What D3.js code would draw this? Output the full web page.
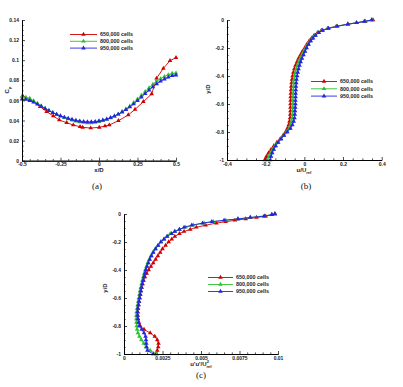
<!DOCTYPE html>
<html><head><meta charset="utf-8">
<script src="https://cdn.jsdelivr.net/npm/d3@7/dist/d3.min.js"></script>
<style>body{margin:0;background:#fff}svg{display:block}</style>
</head><body>
<script>
// ---------- DATA ----------
const seriesNames = ["650,000 cells", "800,000 cells", "950,000 cells"];
const seriesColors = ["#d00000", "#30c030", "#2525e0"];

// Panel (a): Cp vs x/D
const aRedX  = [-0.496,-0.448,-0.383,-0.34,-0.297,-0.258,-0.21,-0.167,-0.123,-0.106,-0.054,0.002,0.039,0.067,0.126,0.19,0.234,0.288,0.342,0.374,0.418,0.461,0.5];
const aRedCp = [0.0644,0.061,0.0538,0.0488,0.0445,0.0405,0.0378,0.0355,0.0338,0.0332,0.0325,0.0332,0.0345,0.0355,0.0398,0.0455,0.051,0.0587,0.0664,0.082,0.0919,0.0995,0.1025];
const aX = [-0.5,-0.475,-0.45,-0.425,-0.4,-0.375,-0.35,-0.325,-0.3,-0.275,-0.25,-0.225,-0.2,-0.175,-0.15,-0.125,-0.1,-0.075,-0.05,-0.025,0,0.025,0.05,0.075,0.1,0.125,0.15,0.175,0.2,0.225,0.25,0.275,0.3,0.325,0.35,0.375,0.4,0.425,0.45,0.475,0.5];
const aGreenCp = [0.064,0.063,0.062,0.0595,0.057,0.0545,0.052,0.0498,0.0478,0.046,0.0443,0.0428,0.0415,0.0403,0.0393,0.0385,0.038,0.0377,0.0377,0.038,0.0388,0.0398,0.041,0.0425,0.0443,0.0463,0.0487,0.0513,0.0543,0.0577,0.0613,0.065,0.0688,0.0725,0.076,0.079,0.0815,0.0837,0.0855,0.0868,0.0872];
const aBlueCp = [0.0612,0.061,0.0598,0.0582,0.0562,0.054,0.0518,0.0497,0.0478,0.0461,0.0446,0.0432,0.042,0.041,0.0401,0.0394,0.0389,0.0386,0.0386,0.0389,0.0395,0.0403,0.0414,0.0428,0.0444,0.0462,0.0483,0.0507,0.0534,0.0564,0.0597,0.0632,0.0667,0.0702,0.0735,0.0765,0.079,0.0812,0.083,0.0845,0.0852];
const aXTicks = [-0.5,-0.25,0,0.25,0.5];
const aXTickLabels = ["-0.5","-0.25","0","0.25","0.5"];
const aYTicks = [0,0.02,0.04,0.06,0.08,0.1,0.12,0.14];
const aYTickLabels = ["0","0.02","0.04","0.06","0.08","0.1","0.12","0.14"];

// Panel (b): y/D vs u/Uref
const bY = [0,-0.01,-0.02,-0.03,-0.045,-0.06,-0.075,-0.09,-0.11,-0.13,-0.15,-0.175,-0.2,-0.225,-0.25,-0.275,-0.3,-0.325,-0.35,-0.375,-0.4,-0.425,-0.45,-0.475,-0.5,-0.525,-0.55,-0.575,-0.6,-0.625,-0.65,-0.675,-0.7,-0.725,-0.75,-0.775,-0.8,-0.825,-0.85,-0.875,-0.9,-0.925,-0.95,-0.975,-1];
const bRedU = [0.355,0.315,0.27,0.225,0.165,0.12,0.088,0.068,0.05,0.037,0.025,0.013,0.002,-0.01,-0.02,-0.03,-0.038,-0.046,-0.052,-0.057,-0.061,-0.064,-0.066,-0.068,-0.069,-0.07,-0.071,-0.071,-0.072,-0.072,-0.072,-0.073,-0.074,-0.077,-0.081,-0.088,-0.097,-0.11,-0.125,-0.142,-0.158,-0.172,-0.185,-0.196,-0.205];
const bGreenU = [0.35,0.312,0.27,0.225,0.168,0.122,0.092,0.072,0.054,0.041,0.029,0.018,0.007,-0.003,-0.012,-0.021,-0.029,-0.036,-0.041,-0.046,-0.05,-0.053,-0.055,-0.056,-0.057,-0.058,-0.058,-0.059,-0.059,-0.06,-0.06,-0.061,-0.063,-0.066,-0.071,-0.079,-0.092,-0.107,-0.122,-0.138,-0.152,-0.164,-0.174,-0.183,-0.19];
const bBlueU = [0.348,0.31,0.27,0.225,0.17,0.125,0.095,0.075,0.058,0.045,0.033,0.022,0.012,0.004,-0.004,-0.012,-0.019,-0.025,-0.03,-0.034,-0.037,-0.04,-0.042,-0.043,-0.044,-0.045,-0.045,-0.046,-0.046,-0.047,-0.048,-0.049,-0.051,-0.055,-0.062,-0.072,-0.088,-0.105,-0.12,-0.135,-0.148,-0.158,-0.166,-0.172,-0.176];
const bXTicks = [-0.4,-0.2,0,0.2,0.4];
const bXTickLabels = ["-0.4","-0.2","0","0.2","0.4"];
const yDTicks = [0,-0.2,-0.4,-0.6,-0.8,-1];
const yDTickLabels = ["0","-0.2","-0.4","-0.6","-0.8","-1"];

// Panel (c): y/D vs u'u'/Uref^2
const cY = [0,-0.005,-0.015,-0.025,-0.035,-0.045,-0.055,-0.065,-0.08,-0.095,-0.11,-0.125,-0.14,-0.16,-0.18,-0.2,-0.225,-0.25,-0.275,-0.3,-0.325,-0.35,-0.375,-0.4,-0.425,-0.45,-0.475,-0.5,-0.525,-0.55,-0.575,-0.6,-0.625,-0.65,-0.675,-0.7,-0.725,-0.75,-0.775,-0.8,-0.825,-0.85,-0.875,-0.9,-0.925,-0.95,-0.975,-1];
const cRedV = [0.0098,0.0096,0.0092,0.0086,0.0079,0.0072,0.0066,0.006,0.0053,0.0047,0.0043,0.0039,0.0036,0.0033,0.0031,0.0029,0.0027,0.0025,0.00235,0.0022,0.00205,0.0019,0.00175,0.0016,0.00147,0.00136,0.00127,0.0012,0.00114,0.00109,0.00105,0.00101,0.00097,0.00094,0.00091,0.00089,0.00089,0.00091,0.00096,0.00105,0.0013,0.0017,0.002,0.00216,0.00224,0.00222,0.00216,0.00212];
const cGreenV = [0.0098,0.0096,0.0091,0.0082,0.0074,0.0066,0.0058,0.0052,0.0045,0.004,0.0036,0.0033,0.003,0.0028,0.0026,0.0024,0.0022,0.00203,0.00188,0.00175,0.00164,0.00154,0.00146,0.00138,0.00131,0.00125,0.00119,0.00114,0.00109,0.00104,0.001,0.00096,0.00092,0.00088,0.00085,0.00082,0.0008,0.0008,0.0008,0.00082,0.00085,0.0009,0.001,0.00113,0.00128,0.00143,0.0017,0.0021];
const cBlueV = [0.0098,0.0096,0.0091,0.0082,0.0074,0.0065,0.0057,0.0051,0.0044,0.0039,0.0036,0.0033,0.0031,0.0028,0.0026,0.0024,0.00222,0.00205,0.0019,0.00178,0.00167,0.00158,0.0015,0.00142,0.00136,0.0013,0.00124,0.00119,0.00114,0.0011,0.00106,0.00102,0.00098,0.00094,0.0009,0.00088,0.00088,0.0009,0.00095,0.001,0.00115,0.0013,0.0014,0.00143,0.00145,0.00147,0.00152,0.0019];
const cXTicks = [0,0.0025,0.005,0.0075,0.01];
const cXTickLabels = ["0","0.0025","0.005","0.0075","0.01"];

// ---------- DRAW ----------
const W = 403, H = 387;
const svg = d3.select("body").append("svg").attr("width", W).attr("height", H)
  .style("font-family", "'Liberation Sans', Arial, sans-serif");
svg.append("rect").attr("width", W).attr("height", H).attr("fill", "#fff");

const tri = d3.symbol().type(d3.symbolTriangle).size(9);

function minorTicks(majors, n) {
  const out = [];
  for (let i = 0; i < majors.length - 1; i++) {
    const a = majors[i], b = majors[i + 1];
    for (let k = 1; k < n; k++) out.push(a + (b - a) * k / n);
  }
  return out;
}

function panel(cfg) {
  const g = svg.append("g");
  const x = d3.scaleLinear().domain(cfg.xDomain).range(cfg.xRange);
  const y = d3.scaleLinear().domain(cfg.yDomain).range(cfg.yRange);
  const yBase = cfg.yRange[0], xBase = cfg.xRange[0];

  // series
  cfg.series.forEach((s, i) => {
    const pts = s.xs.map((v, j) => [v, s.ys[j]]);
    g.append("path").datum(pts)
      .attr("fill", "none").attr("stroke", seriesColors[i]).attr("stroke-width", 0.9)
      .attr("d", d3.line().x(d => x(d[0])).y(d => y(d[1])));
    g.selectAll(null).data(pts).enter().append("path")
      .attr("d", tri).attr("fill", seriesColors[i])
      .attr("transform", d => `translate(${x(d[0])},${y(d[1])})`);
  });

  // axes
  const fmtX = (d, i) => cfg.xLabels[i];
  const fmtY = (d, i) => cfg.yLabels[i];
  g.append("g").attr("transform", `translate(0,${yBase})`)
    .call(d3.axisBottom(x).tickValues(cfg.xTicks).tickFormat(fmtX).tickSizeInner(-3).tickSizeOuter(0).tickPadding(2));
  g.append("g").attr("transform", `translate(0,${yBase})`)
    .call(d3.axisBottom(x).tickValues(minorTicks(cfg.xTicks, cfg.xMinor)).tickFormat("").tickSizeInner(-1.6).tickSizeOuter(0));
  g.append("g").attr("transform", `translate(${xBase},0)`)
    .call(d3.axisLeft(y).tickValues(cfg.yTicks).tickFormat(fmtY).tickSizeInner(-3).tickSizeOuter(0).tickPadding(3));
  g.append("g").attr("transform", `translate(${xBase},0)`)
    .call(d3.axisLeft(y).tickValues(minorTicks(cfg.yTicks, cfg.yMinor)).tickFormat("").tickSizeInner(-1.6).tickSizeOuter(0));
  g.selectAll(".domain").attr("stroke", "#000").attr("stroke-width", 0.9);
  g.selectAll(".tick line").attr("stroke", "#000").attr("stroke-width", 0.7);
  g.selectAll(".tick text").attr("font-size", 5).attr("font-weight", "bold")
    .attr("font-family", "'Liberation Sans', Arial, sans-serif").attr("fill", "#222");

  // axis titles
  const xt = g.append("text").attr("x", cfg.xTitlePos[0]).attr("y", cfg.xTitlePos[1])
    .attr("text-anchor", "middle").attr("font-size", 6).attr("font-weight", "bold").attr("fill", "#222");
  cfg.xTitle(xt);
  const yt = g.append("text")
    .attr("transform", `translate(${cfg.yTitlePos[0]},${cfg.yTitlePos[1]}) rotate(-90)`)
    .attr("text-anchor", "middle").attr("font-size", 6).attr("font-weight", "bold").attr("fill", "#222");
  cfg.yTitle(yt);

  // legend
  const [lx1, lx2, ly0, ldy] = cfg.legend;
  seriesNames.forEach((name, i) => {
    const ly = ly0 + i * ldy;
    g.append("line").attr("x1", lx1).attr("x2", lx2).attr("y1", ly).attr("y2", ly)
      .attr("stroke", seriesColors[i]).attr("stroke-width", 0.9);
    g.append("path").attr("d", tri).attr("fill", seriesColors[i])
      .attr("transform", `translate(${(lx1 + lx2) / 2},${ly})`);
    g.append("text").attr("x", lx2 + 3).attr("y", ly + 1.9).attr("font-size", 5.4)
      .attr("font-weight", "bold").attr("fill", "#222").text(name);
  });

  // caption
  svg.append("text").attr("x", cfg.caption[1]).attr("y", cfg.caption[2])
    .attr("text-anchor", "middle").attr("font-size", 9)
    .attr("font-family", "'Liberation Serif', 'Times New Roman', serif").attr("fill", "#111")
    .text(cfg.caption[0]);
}

panel({
  xDomain: [-0.5, 0.5], xRange: [22, 176],
  yDomain: [0, 0.14], yRange: [160.7, 20],
  xTicks: aXTicks, xLabels: aXTickLabels, xMinor: 5,
  yTicks: aYTicks, yLabels: aYTickLabels, yMinor: 4,
  series: [{xs: aRedX, ys: aRedCp}, {xs: aX, ys: aGreenCp}, {xs: aX, ys: aBlueCp}],
  xTitlePos: [99, 172], xTitle: t => t.text("x/D"),
  yTitlePos: [9, 90], yTitle: t => { t.append("tspan").text("C"); t.append("tspan").attr("font-size", 4).attr("dy", 1.5).text("p"); },
  legend: [70, 97, 34.5, 6.8],
  caption: ["(a)", 97, 189]
});

panel({
  xDomain: [-0.4, 0.4], xRange: [227, 381.7],
  yDomain: [-1, 0], yRange: [160, 20],
  xTicks: bXTicks, xLabels: bXTickLabels, xMinor: 4,
  yTicks: yDTicks, yLabels: yDTickLabels, yMinor: 4,
  series: [{xs: bRedU, ys: bY}, {xs: bGreenU, ys: bY}, {xs: bBlueU, ys: bY}],
  xTitlePos: [304, 172], xTitle: t => { t.append("tspan").text("u/U"); t.append("tspan").attr("font-size", 4).attr("dy", 1.5).text("ref"); },
  yTitlePos: [210, 89], yTitle: t => t.text("y/D"),
  legend: [311, 337, 81.5, 7.3],
  caption: ["(b)", 306, 189]
});

panel({
  xDomain: [0, 0.01], xRange: [124, 278],
  yDomain: [-1, 0], yRange: [354, 214],
  xTicks: cXTicks, xLabels: cXTickLabels, xMinor: 5,
  yTicks: yDTicks, yLabels: yDTickLabels, yMinor: 4,
  series: [{xs: cRedV, ys: cY}, {xs: cGreenV, ys: cY}, {xs: cBlueV, ys: cY}],
  xTitlePos: [201, 366], xTitle: t => {
    t.append("tspan").text("u'u'/U");
    t.append("tspan").attr("font-size", 4).attr("dy", 1.5).text("ref");
    t.append("tspan").attr("font-size", 4).attr("dx", -5).attr("dy", -4.5).text("2");
  },
  yTitlePos: [107, 288], yTitle: t => t.text("y/D"),
  legend: [208, 233, 277.5, 7],
  caption: ["(c)", 201, 378]
});
</script>
</body></html>
